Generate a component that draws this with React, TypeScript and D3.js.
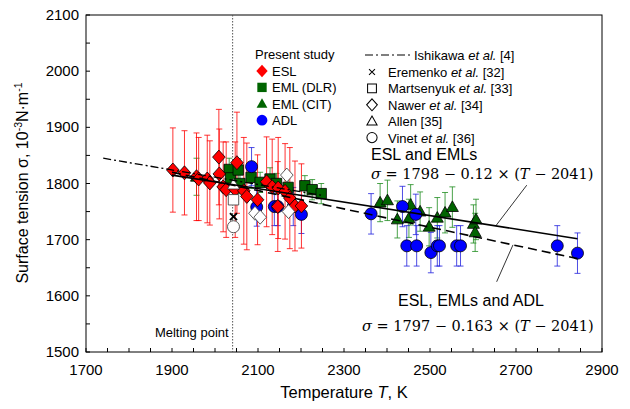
import React, { useEffect, useRef } from 'react';
import * as d3 from 'd3';

// [T (K), sigma (mN/m), error]
const esl: number[][] = [
  [1902, 1824, 75], [1929, 1819, 75], [1957, 1812, 78], [1962, 1808, 74],
  [1982, 1808, 78], [1988, 1801, 75], [2009, 1847, 85], [2010, 1817, 80],
  [2019, 1794, 80], [2026, 1789, 85], [2047, 1789, 85], [2051, 1837, 90],
  [2067, 1787, 95], [2074, 1777, 95], [2099, 1771, 80], [2120, 1803, 80],
  [2133, 1794, 85], [2147, 1792, 90], [2146, 1759, 80], [2163, 1786, 85],
  [2174, 1774, 90], [2186, 1760, 80], [2201, 1760, 75],
];
const emlDlr: number[][] = [
  [2033, 1825, 20], [2036, 1810, 18], [2054, 1824, 20], [2058, 1800, 18],
  [2084, 1811, 20], [2105, 1802, 18], [2128, 1808, 20], [2143, 1800, 18],
  [2170, 1793, 20], [2209, 1796, 18], [2226, 1789, 18], [2247, 1782, 18],
];
const emlCit: number[][] = [
  [1957, 1812, 33], [2384, 1766, 34], [2401, 1770, 36], [2424, 1736, 33],
  [2451, 1738, 34], [2455, 1762, 36], [2477, 1750, 35], [2498, 1723, 34],
  [2517, 1739, 36], [2535, 1748, 36], [2552, 1758, 36], [2601, 1728, 34],
  [2607, 1736, 36], [2605, 1713, 34],
];
const adl: number[][] = [
  [2085, 1830, 34], [2097, 1758, 34], [2138, 1759, 34], [2146, 1759, 34],
  [2182, 1759, 34], [2201, 1745, 34], [2363, 1746, 36], [2436, 1759, 36],
  [2467, 1745, 36], [2446, 1689, 36], [2469, 1689, 36], [2502, 1677, 36],
  [2517, 1689, 36], [2522, 1689, 36], [2562, 1689, 36], [2571, 1689, 36],
  [2796, 1689, 36], [2843, 1676, 36],
];
const eremenko = [[2043, 1741]];
const martsenyuk = [[2043, 1771]];
const nawer = [[2093, 1747], [2105, 1740], [2167, 1815], [2171, 1750]];
const allen = [[2043, 1798]];
const vinet = [[2043, 1723]];

const meltingT = 2041;
const xTicks = [1700, 1900, 2100, 2300, 2500, 2700, 2900];
const yTicks = [1500, 1600, 1700, 1800, 1900, 2000, 2100];

const fitEml = (t: number) => 1798 - 0.12 * (t - 2041);
const fitAll = (t: number) => 1797 - 0.163 * (t - 2041);
const ishikawa = (t: number) => 1845 - 0.13 * (t - 1740);
const fitRange = [1900, 2843];
const ishikawaRange = [1740, 2250];

export default function App() {
  const ref = useRef<SVGSVGElement>(null);

  useEffect(() => {
    const svg = d3.select(ref.current);
    svg.selectAll('*').remove();
    const font = "'Liberation Sans', Arial, sans-serif";
    const serif = "'DejaVu Serif', 'Liberation Serif', serif";

    const x = d3.scaleLinear().domain([1700, 2900]).range([86, 602]);
    const y = d3.scaleLinear().domain([1500, 2100]).range([352, 15]);

    // frame
    svg.append('rect').attr('x', 86).attr('y', 15).attr('width', 516).attr('height', 337)
      .attr('fill', 'none').attr('stroke', '#000').attr('stroke-width', 1);

    // minor/major ticks (inward)
    const g = svg.append('g');
    d3.range(1700, 2901, 50).forEach(t => {
      g.append('line').attr('x1', x(t)).attr('x2', x(t)).attr('y1', 352).attr('y2', 348)
        .attr('stroke', '#000');
    });
    d3.range(1500, 2101, 50).forEach(s => {
      g.append('line').attr('x1', 86).attr('x2', 90).attr('y1', y(s)).attr('y2', y(s))
        .attr('stroke', '#000');
    });
    xTicks.forEach(t => {
      g.append('text').attr('x', x(t)).attr('y', 375).attr('text-anchor', 'middle')
        .attr('font-family', font).attr('font-size', 15).text(t);
    });
    yTicks.forEach(s => {
      g.append('text').attr('x', 79).attr('y', y(s) + 5).attr('text-anchor', 'end')
        .attr('font-family', font).attr('font-size', 15).text(s);
    });

    // axis titles
    const xt = svg.append('text').attr('x', 344).attr('y', 398).attr('text-anchor', 'middle')
      .attr('font-family', font).attr('font-size', 16.5);
    xt.append('tspan').text('Temperature ');
    xt.append('tspan').attr('font-style', 'italic').text('T');
    xt.append('tspan').text(', K');

    const yt = svg.append('text').attr('transform', 'translate(28,183) rotate(-90)')
      .attr('text-anchor', 'middle').attr('font-family', font).attr('font-size', 16);
    yt.append('tspan').text('Surface tension σ, 10');
    yt.append('tspan').attr('font-size', 10.5).attr('dy', -6).text('-3');
    yt.append('tspan').attr('dy', 6).text('N·m');
    yt.append('tspan').attr('font-size', 10.5).attr('dy', -6).text('-1');

    // melting point
    svg.append('line').attr('x1', x(meltingT)).attr('x2', x(meltingT)).attr('y1', 15).attr('y2', 352)
      .attr('stroke', '#555').attr('stroke-dasharray', '1.5,1.5');
    svg.append('text').attr('x', x(meltingT) - 4).attr('y', 337).attr('text-anchor', 'end')
      .attr('font-family', font).attr('font-size', 13).text('Melting point');

    // error bars
    const errBars = (data: number[][], color: string, op: number) => {
      const eg = svg.append('g').attr('stroke', color).attr('stroke-width', 1).attr('stroke-opacity', op);
      data.forEach(([t, s, e]) => {
        eg.append('line').attr('x1', x(t)).attr('x2', x(t)).attr('y1', y(s - e)).attr('y2', y(s + e));
        eg.append('line').attr('x1', x(t) - 3).attr('x2', x(t) + 3).attr('y1', y(s - e)).attr('y2', y(s - e));
        eg.append('line').attr('x1', x(t) - 3).attr('x2', x(t) + 3).attr('y1', y(s + e)).attr('y2', y(s + e));
      });
    };
    errBars(emlDlr, '#1e8c1e', 0.8);
    errBars(emlCit, '#1e8c1e', 0.8);
    errBars(adl, '#2222dd', 0.8);
    errBars(esl, '#ff0000', 0.8);

    const sym = (type: d3.SymbolType, size: number) => d3.symbol().type(type).size(size)();
    const markers = (data: number[][], path: string | null, fill: string, stroke: string) => {
      const mg = svg.append('g');
      data.forEach(([t, s]) => {
        mg.append('path').attr('d', path).attr('transform', `translate(${x(t)},${y(s)})`)
          .attr('fill', fill).attr('stroke', stroke).attr('stroke-width', 0.8);
      });
    };
    const diamond = 'M0,-7L6.3,0L0,7L-6.3,0Z';
    const square = 'M-5.2,-5.2H5.2V5.2H-5.2Z';
    const triangle = 'M0,-6.2L6,4.4H-6Z';
    const circle = sym(d3.symbolCircle, 113);
    const cross = 'M-3.5,-3.5L3.5,3.5M-3.5,3.5L3.5,-3.5';

    markers(emlDlr, square, '#006400', '#000');
    markers(emlCit, triangle, '#006400', '#000');
    markers(adl, circle, '#0000ff', '#000');
    markers(esl, diamond, '#ff0000', '#000');
    markers(martsenyuk, square, '#fff', '#333');
    markers(nawer, diamond, '#fff', '#333');
    markers(allen, triangle, '#fff', '#333');
    markers(vinet, circle, '#fff', '#333');
    const cg = svg.append('g');
    eremenko.forEach(([t, s]) => {
      cg.append('path').attr('d', cross).attr('transform', `translate(${x(t)},${y(s)})`)
        .attr('stroke', '#000').attr('stroke-width', 2).attr('fill', 'none');
    });

    // fit lines
    const line = d3.line<number>().x(t => x(t));
    svg.append('path').attr('d', line.y(t => y(fitEml(t)))(fitRange))
      .attr('stroke', '#000').attr('stroke-width', 1.6).attr('fill', 'none');
    svg.append('path').attr('d', line.y(t => y(fitAll(t)))(fitRange))
      .attr('stroke', '#000').attr('stroke-width', 1.6).attr('fill', 'none').attr('stroke-dasharray', '9,5');
    svg.append('path').attr('d', line.y(t => y(ishikawa(t)))(ishikawaRange))
      .attr('stroke', '#000').attr('stroke-width', 1.3).attr('fill', 'none').attr('stroke-dasharray', '8,3,2,3');

    // leader lines
    svg.append('line').attr('x1', x(2653)).attr('y1', y(fitEml(2653))).attr('x2', x(2725)).attr('y2', y(1797))
      .attr('stroke', '#000').attr('stroke-width', 0.8);
    svg.append('line').attr('x1', x(2693)).attr('y1', y(fitAll(2693))).attr('x2', x(2655)).attr('y2', y(1625))
      .attr('stroke', '#000').attr('stroke-width', 0.8);

    // annotations
    const eq = (tx: number, ty: number, a: string, b: string) => {
      const t = svg.append('text').attr('x', tx).attr('y', ty).attr('font-family', serif).attr('font-size', 14.5);
      t.append('tspan').attr('font-style', 'italic').text('σ');
      t.append('tspan').text(` = ${a} − ${b} × (`);
      t.append('tspan').attr('font-style', 'italic').text('T');
      t.append('tspan').text(' − 2041)');
    };
    svg.append('text').attr('x', 371).attr('y', 160).attr('font-family', font).attr('font-size', 16).text('ESL and EMLs');
    eq(371, 179, '1798', '0.12');
    svg.append('text').attr('x', 398).attr('y', 306).attr('font-family', font).attr('font-size', 16).text('ESL, EMLs and ADL');
    eq(362, 331, '1797', '0.163');

    // legend
    const lg = svg.append('g').attr('font-family', font).attr('font-size', 13);
    lg.append('text').attr('x', 255).attr('y', 59).text('Present study');
    const left: [string | null, string, string][] = [
      [diamond, '#ff0000', 'ESL'], [square, '#006400', 'EML (DLR)'],
      [triangle, '#006400', 'EML (CIT)'], [circle, '#0000ff', 'ADL'],
    ];
    left.forEach(([p, c, label], i) => {
      const yy = 71 + i * 16.4;
      lg.append('path').attr('d', p).attr('fill', c).attr('transform', `translate(262,${yy}) scale(0.9)`);
      lg.append('text').attr('x', 272).attr('y', yy + 5).text(label);
    });
    lg.append('line').attr('x1', 365).attr('x2', 410).attr('y1', 55).attr('y2', 55)
      .attr('stroke', '#000').attr('stroke-width', 1.2).attr('stroke-dasharray', '8,3,2,3');
    const it = lg.append('text').attr('x', 414).attr('y', 60);
    it.append('tspan').text('Ishikawa ');
    it.append('tspan').attr('font-style', 'italic').text('et al.');
    it.append('tspan').text(' [4]');
    const right: [string | null, string, boolean, string][] = [
      [cross, 'Eremenko ', true, ' [32]'], [square, 'Martsenyuk ', true, ' [33]'],
      [diamond, 'Nawer ', true, ' [34]'], [triangle, 'Allen', false, ' [35]'],
      [circle, 'Vinet ', true, ' [36]'],
    ];
    right.forEach(([p, name, etal, ref], i) => {
      const yy = 72 + i * 16.4;
      lg.append('path').attr('d', p).attr('fill', 'none').attr('stroke', '#000').attr('stroke-width', 1.2)
        .attr('transform', `translate(372,${yy}) scale(0.85)`);
      const tt = lg.append('text').attr('x', 388).attr('y', yy + 5);
      tt.append('tspan').text(name);
      if (etal) tt.append('tspan').attr('font-style', 'italic').text('et al.');
      tt.append('tspan').text(ref);
    });
  }, []);

  return (
    <div>
      <svg ref={ref} width={630} height={409} style={{ position: 'absolute', left: 0, top: 0, background: '#fff' }} />
    </div>
  );
}
